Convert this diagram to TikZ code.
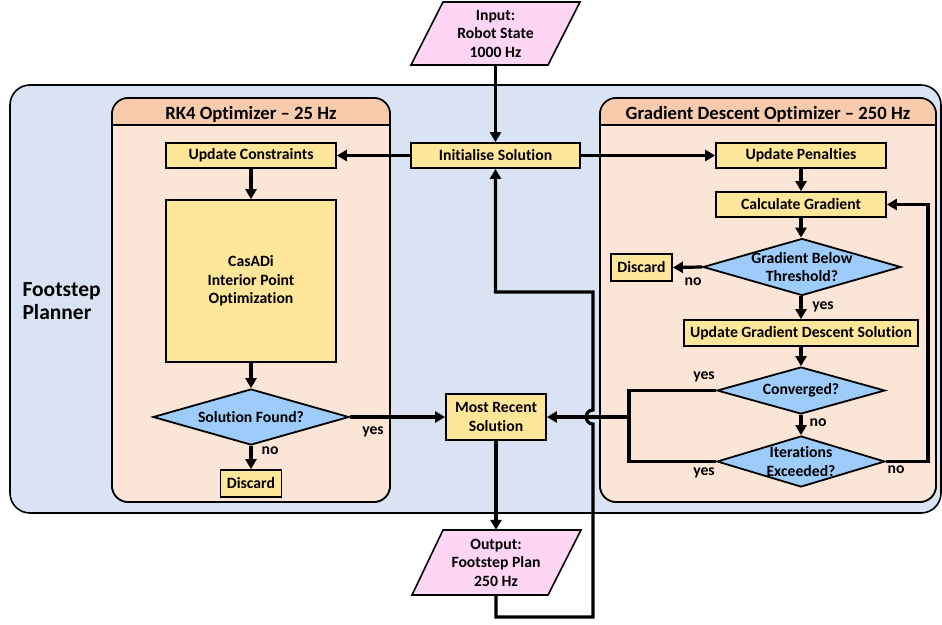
\documentclass[tikz,border=0pt]{standalone}
\usepackage{fontspec}
\setmainfont{Carlito}[Ligatures=NoCommon]
\usetikzlibrary{arrows.meta,shapes.geometric}

\definecolor{plannerblue}{HTML}{DAE3F3}
\definecolor{headpeach}{HTML}{F8CBAD}
\definecolor{bodypeach}{HTML}{FBE5D6}
\definecolor{boxyellow}{HTML}{FFE699}
\definecolor{decblue}{HTML}{9DCBFA}
\definecolor{iopink}{HTML}{FFD5F6}

\newcommand{\boxfont}{\fontsize{15.7}{18.5}\selectfont\bfseries}
\newcommand{\headfont}{\fontsize{18.7}{20}\selectfont\bfseries}

\tikzset{
  flow/.style={line width=3.2pt, -{Triangle[length=10pt,width=11pt]}},
  plainline/.style={line width=3.2pt},
  procbox/.style={draw, line width=1.8pt, fill=boxyellow, inner sep=0pt, align=center, font=\boxfont},
  decision/.style={diamond, draw, line width=1.8pt, fill=decblue, inner sep=0pt},
  dectext/.style={align=center, font=\boxfont, inner sep=0pt},
  iotext/.style={inner sep=0pt, align=center, font=\boxfont},
  answer/.style={inner sep=1pt, font=\boxfont},
}

\begin{document}
\begin{tikzpicture}[x=1pt,y=-1pt]
    \useasboundingbox (0,0) rectangle (942,624);

    % Footstep Planner
    \draw[fill=plannerblue, line width=1.6pt, rounded corners=20pt] (10,85) rectangle (941,513);
    \node[anchor=west, align=left, font=\fontsize{21.5}{23}\selectfont\bfseries] (plannerlabel) at (19,301) {Footstep\\Planner};

    % RK4 Optimizer
    \draw[fill=bodypeach, line width=1.6pt, rounded corners=16pt] (112,98) rectangle (390,502);
    \begin{scope}
        \clip[rounded corners=16pt] (112,98) rectangle (390,502);
        \fill[headpeach] (112,98) rectangle (390,125);
    \end{scope}
    \draw[line width=1.6pt] (112,125) -- (390,125);
    \draw[line width=1.6pt, rounded corners=16pt] (112,98) rectangle (390,502);
    \node[font=\headfont] (rkhead) at (251,114) {RK4 Optimizer – 25 Hz};

    % Gradient Descent Optimizer
    \draw[fill=bodypeach, line width=1.6pt, rounded corners=16pt] (600,98) rectangle (936,502);
    \begin{scope}
        \clip[rounded corners=16pt] (600,98) rectangle (936,502);
        \fill[headpeach] (600,98) rectangle (936,125);
    \end{scope}
    \draw[line width=1.6pt] (600,125) -- (936,125);
    \draw[line width=1.6pt, rounded corners=16pt] (600,98) rectangle (936,502);
    \node[font=\headfont] (gdhead) at (768,114) {Gradient Descent Optimizer – 250 Hz};

    % Input / Output
    \draw[fill=iopink, line width=1.6pt] (443,2) -- (580,2) -- (548,65) -- (411,65) -- cycle;
    \node[iotext, minimum width=137pt, minimum height=63pt] (input) at (495.5,33.5) {Input:\\Robot State\\1000 Hz};
    \draw[fill=iopink, line width=1.6pt] (443,530) -- (581,530) -- (548,595) -- (412,595) -- cycle;
    \node[iotext, minimum width=137pt, minimum height=65pt] (output) at (496,562.5) {Output:\\Footstep Plan\\250 Hz};

    % Blocks
    \node[procbox, minimum width=169pt, minimum height=25pt] (init) at (495.5,155.5) {Initialise Solution};
    \node[procbox, minimum width=100pt, minimum height=46pt] (recent) at (496,417) {Most Recent\\Solution};

    \node[procbox, minimum width=170pt, minimum height=25pt] (upcon) at (251,155.5) {Update Constraints};
    \node[procbox, minimum width=170pt, minimum height=162pt] (casadi) at (251,281) {CasADi\\Interior Point\\Optimization};
    \node[decision, minimum width=196pt, minimum height=56pt,
          label={[dectext]center:Solution Found?}] (found) at (251,417) {};
    \node[procbox, minimum width=61pt, minimum height=27pt] (discardL) at (251,483.5) {Discard};

    \node[procbox, minimum width=170pt, minimum height=25pt] (uppen) at (801,155.5) {Update Penalties};
    \node[procbox, minimum width=170pt, minimum height=25pt] (calc) at (801,204.5) {Calculate Gradient};
    \node[decision, minimum width=198pt, minimum height=57pt,
          label={[dectext]center:Gradient Below\\Threshold?}] (below) at (802,267) {};
    \node[procbox, minimum width=61pt, minimum height=27pt] (discardR) at (641.5,267.5) {Discard};
    \node[procbox, minimum width=234pt, minimum height=26pt] (upgd) at (801,333) {Update Gradient Descent Solution};
    \node[decision, minimum width=168pt, minimum height=47pt,
          label={[dectext]center:Converged?}] (conv) at (801,390.5) {};
    \node[decision, minimum width=168pt, minimum height=51pt,
          label={[dectext]center:Iterations\\Exceeded?}] (iter) at (801,461.5) {};

    % Connectors
    \draw[flow] (input) -- (init);
    \draw[flow] (init.west) -- (upcon.east);
    \draw[flow] (init.east) -- (uppen.west);
    \draw[flow] (upcon) -- (casadi);
    \draw[flow] (casadi) -- (found);
    \draw[flow] (found.east) -- (recent.west);
    \draw[flow] (found) -- (discardL);
    \draw[flow] (recent) -- (output);

    \draw[flow] (uppen) -- (calc);
    \draw[flow] (calc.south) -- (calc.south |- below.north);
    \draw[flow] (below.west) -- (discardR.east);
    \draw[flow] (below.south -| upgd.north) -- (upgd.north);
    \draw[flow] (upgd) -- (conv);
    \draw[flow] (conv) -- (iter);

    \coordinate (yesbus) at (629,417);
    \draw[plainline] (conv.west) -| (yesbus) |- (iter.west);
    \draw[flow] (yesbus) -- (recent.east);

    \coordinate (loopR) at (928,461.5);
    \draw[flow] (iter.east) -- (loopR) |- (calc.east);

    % Rueckfuehrung
    \coordinate (fbB) at (593,617);
    \coordinate (hopS) at (593,424);
    \coordinate (hopN) at (593,410);
    \coordinate (fbC) at (593,292);
    \draw[flow] (output.south) |- (fbB) -- (hopS) .. controls (584,424) and (584,410) .. (hopN) -- (fbC) -| (init.south);

    % Labels
    \node[answer] (yesfound) at (373,432) {yes};
    \node[answer] (nofound) at (270,451) {no};
    \node[answer] (nobelow) at (693,282) {no};
    \node[answer] (yesbelow) at (823,307) {yes};
    \node[answer] (yesconv) at (704,377) {yes};
    \node[answer] (noconv) at (818,423) {no};
    \node[answer] (yesiter) at (704,473) {yes};
    \node[answer] (noiter) at (896,470) {no};
\end{tikzpicture}
\end{document}
